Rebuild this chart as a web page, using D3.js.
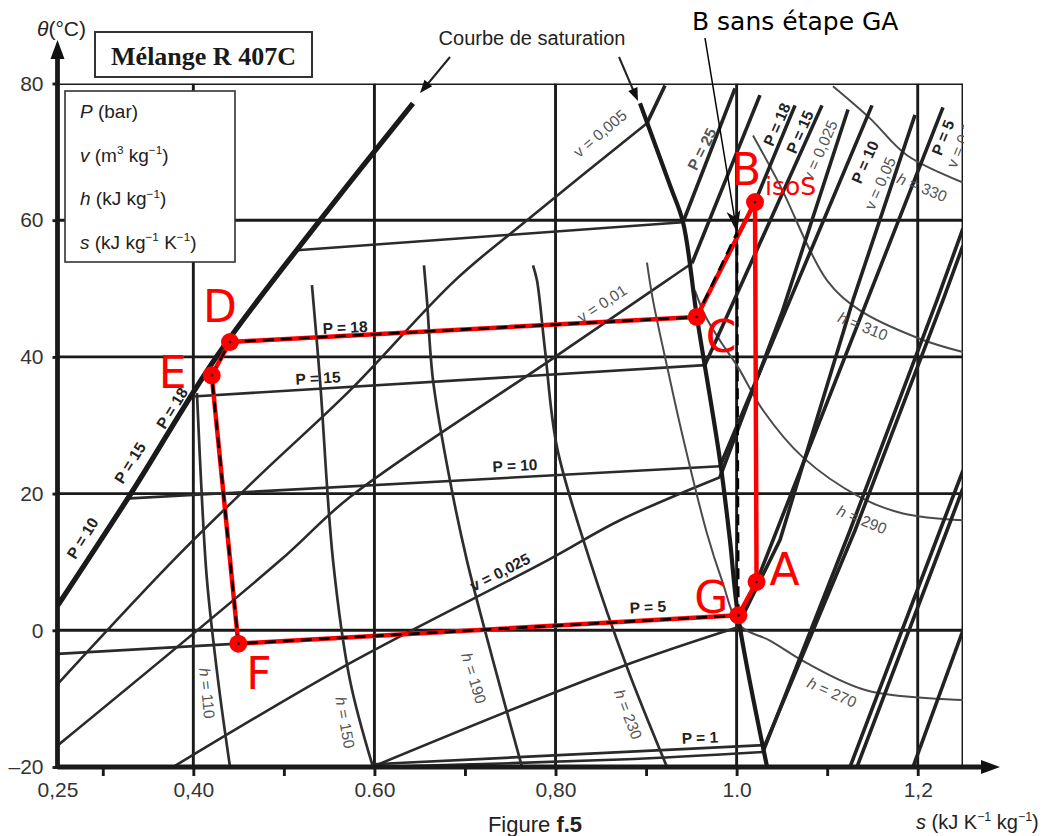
<!DOCTYPE html>
<html>
<head>
<meta charset="utf-8">
<script src="https://cdn.jsdelivr.net/npm/d3@7"></script>
<style>
  body { margin: 0; background: #fff; }
  svg { display: block; font-family: "Liberation Sans", Arial, sans-serif; }
</style>
</head>
<body>
<svg id="chart" width="1050" height="836"></svg>
<script>
'use strict';

// values: [s (kJ/K/kg), theta (°C)]
var sTicks      = [0.25, 0.3, 0.4, 0.5, 0.6, 0.7, 0.8, 0.9, 1.0, 1.1, 1.2];
var sTickLabels = ['0,25', '', '0,40', '', '0.60', '', '0,80', '', '1.0', '', '1,2'];
var tTicks      = [-20, 0, 20, 40, 60, 80];
var tTickLabels = ['\u201320', '0', '20', '40', '60', '80'];
var gridS = [0.4, 0.6, 0.8, 1.0, 1.2, 1.25];
var gridT = [0, 20, 40, 60, 80];

// saturation curve
var satLiquid = [[0.2506, 3.7], [0.332, 20.2], [0.426, 40.1], [0.540, 60.0], [0.6426, 77.1]];
var satVapor  = [[0.8933, 77.1], [0.9264, 65.1], [0.9408, 59.7], [0.9562, 45.8], [0.9816, 24.9],
                 [0.9926, 13.2], [1.0015, 2.2], [1.0335, -19.9]];

// isobars (bar), wet part then superheated part
var pDome25 = [[0.5145, 55.6], [0.9408, 59.7]];
var pDome18 = [[0.4394, 42.17], [0.9559, 45.84]];
var pDome15 = [[0.3996, 34.2], [0.9650, 38.8]];
var pDome10 = [[0.330, 19.3], [0.9816, 24.0]];
var pDome5  = [[0.25, -3.45], [1.0019, 2.19]];
var pDome1  = [[0.5984, -19.6], [1.0313, -16.8]];
var pSup25  = [[0.9408, 59.7], [0.9982, 79.3]];
var pSup18  = [[0.9559, 45.84], [1.0203, 62.66], [1.0645, 76.8]];
var pSup15  = [[0.9650, 38.8], [1.0943, 76.8]];
var pSup10  = [[0.9816, 24.0], [1.0589, 48.3], [1.1495, 76.8]];
var pSup5   = [[1.0019, 2.19], [1.022, 7.07], [1.2279, 76.5]];
var pSup1   = [[1.0313, -16.8], [1.1307, 14.6], [1.2279, 48.3], [1.25, 56.3]];
var pSupLowA = [[1.1252, -20], [1.2246, 14.6], [1.25, 23.4]];
var pSupLowB = [[1.1329, -20], [1.2323, 14.6], [1.25, 20.8]];
var pSupLowC = [[1.1948, -20], [1.25, 0]];

// isochores (m3/kg)
var vDome005 = [[0.2506, -7.8], [0.3776, 10.2], [0.4736, 22.7], [0.5730, 35.1], [0.6890, 51.2],
                [0.7685, 60.0], [0.9010, 74.2]];
var vSup005  = [[0.9010, 74.2], [0.9209, 79.7]];
var vDome01  = [[0.2506, -16.8], [0.4957, 10.2], [0.5730, 19.5], [0.7939, 39.5], [0.9231, 51.2], [0.9507, 53.7]];
var vSup01   = [[0.9507, 53.7], [1.0258, 78.3]];
var vDome025 = [[0.3776, -20], [0.5730, -4.8], [0.7906, 10.2], [0.8712, 16.1], [0.9816, 22.4]];
var vSup025  = [[0.9816, 22.4], [1.0501, 46.5], [1.1230, 76.2]];
var vDome05  = [[0.5973, -20], [0.8712, -5.4], [1.0004, 0.4]];
var vSup05   = [[1.0004, 0.4], [1.0479, 13.2], [1.1285, 48.3], [1.1970, 75.4]];
var vDome1   = [[0.6006, -20], [0.8712, -18.9], [1.0291, -17.8]];
var vSup1    = [[1.0291, -17.8], [1.1252, 14.6], [1.2213, 48.3], [1.25, 58.8]];

// isenthalps (kJ/kg)
var h110 = [[0.404, 34.7], [0.4096, 19.0], [0.4151, 7.3], [0.4273, -7.3], [0.4405, -20]];
var h150 = [[0.531, 50.5], [0.5399, 36.6], [0.5543, 10.2], [0.573, -7.3], [0.5984, -20]];
var h190 = [[0.6547, 53.4], [0.658, 48.3], [0.6647, 36.6], [0.6834, 21.9], [0.7022, 10.2], [0.7309, -4.4], [0.763, -20]];
var h230 = [[0.7751, 53.4], [0.7795, 51.2], [0.7884, 41.0], [0.8016, 26.8], [0.838, 10.2], [0.8789, -5.4], [0.9231, -20]];
var h270 = [[0.901, 53.8], [0.9076, 48.3], [0.9242, 38.0], [0.9397, 28.8], [0.9672, 14.2], [0.9838, 7.3],
            [1.0037, 0.7], [1.0368, -1.5], [1.0777, -4.8], [1.144, -8.8], [1.25, -10.2]];
var h290 = [[0.954, 49.7], [0.965, 46.1], [0.9816, 42.4], [1.0015, 38.5], [1.0291, 32.2], [1.0733, 25.3],
            [1.1362, 19.5], [1.1837, 17.1], [1.25, 16.1]];
var h310 = [[1.0181, 72.4], [1.0479, 65.1], [1.0998, 51.2], [1.1362, 46.8], [1.2014, 42.7], [1.25, 40.7]];
var h330 = [[1.1064, 79.6], [1.1473, 74.9], [1.1881, 69.5], [1.25, 65.5]];

// refrigeration cycle
var cycleNames = ['A', 'B', 'C', 'D', 'E', 'F', 'G'];
var cycleS     = [1.022, 1.0203, 0.9559, 0.4405, 0.4203, 0.4497, 1.0019];
var cycleT     = [7.07, 62.66, 45.84, 42.18, 37.31, -1.95, 2.19];
// cycle without step GA: G -> B' -> C -> D -> E -> F -> G
var noGaS = [1.0019, 1.0004, 0.9559, 0.4405, 0.4203, 0.4497, 1.0019];
var noGaT = [2.19, 58.2, 45.84, 42.18, 37.31, -1.95, 2.19];

// curve labels: text, s, theta, angle, kind
var curveLabels = [
  ['P = 18', 0.5676, 44.3, -3, 'p'], ['P = 15', 0.5377, 36.9, -3, 'p'],
  ['P = 10', 0.7552, 24.1, -3, 'p'], ['P = 5', 0.902, 3.4, -3, 'p'],
  ['P = 1', 0.9595, -15.7, -2, 'p'], ['v = 0,025', 0.7387, 8.5, -27, 'p'],
  ['v = 0,01', 0.8513, 47.8, -33, 'g'], ['v = 0,005', 0.8491, 72.7, -40, 'g'],
  ['P = 10', 0.2777, 13.5, -58, 'p'], ['P = 15', 0.330, 24.5, -58, 'p'],
  ['P = 18', 0.3765, 32.5, -58, 'p'],
  ['P = 25', 0.9617, 70.4, -63, 'pg'], ['P = 18', 1.0446, 74.0, -66, 'p'],
  ['P = 15', 1.07, 72.9, -66, 'p'], ['v = 0,025', 1.092, 70.2, -66, 'g'],
  ['P = 10', 1.1418, 68.5, -66, 'p'], ['v = 0,05', 1.1583, 65.4, -66, 'g'],
  ['P = 5', 1.2279, 72.1, -68, 'p'],
  ['h = 110', 0.4151, -9.2, 84, 'h'], ['h = 150', 0.5676, -13.5, 80, 'h'],
  ['h = 190', 0.7099, -7.0, 73, 'h'], ['h = 230', 0.8801, -12.3, 69, 'h'],
  ['h = 270', 1.1053, -9.1, 24, 'h'], ['h = 290', 1.1384, 16.2, 22, 'h'],
  ['h = 310', 1.1395, 44.5, 22, 'h'], ['h = 330', 1.2047, 64.8, 22, 'h']
];

var SANS = '"Liberation Sans", Arial, sans-serif';
var DEJAVU = '"DejaVu Sans", sans-serif';
var SERIF = '"Liberation Serif", "Times New Roman", serif';

var svg = d3.select('#chart');
var x = d3.scaleLinear().domain([0.25, 1.25]).range([57.5, 963]);
var y = d3.scaleLinear().domain([-20, 80]).range([767, 83.5]);

var straight = d3.line().x(function (d) { return x(d[0]); }).y(function (d) { return y(d[1]); });
var smooth = d3.line().x(function (d) { return x(d[0]); }).y(function (d) { return y(d[1]); })
  .curve(d3.curveCatmullRom.alpha(0.5));

var defs = svg.append('defs');
defs.append('clipPath').attr('id', 'plot').append('rect')
  .attr('x', x(0.25)).attr('y', y(80)).attr('width', x(1.25) - x(0.25)).attr('height', y(-20) - y(80));
defs.append('clipPath').attr('id', 'plotText').append('rect')
  .attr('x', 0).attr('y', 0).attr('width', x(1.25) + 1).attr('height', 836);

var net = svg.append('g').attr('clip-path', 'url(#plot)');

// grid
net.selectAll('.gh').data(gridT).join('line').attr('class', 'gh')
  .attr('x1', x(0.25)).attr('x2', x(1.25)).attr('y1', y).attr('y2', y)
  .attr('stroke', '#1a1a1a').attr('stroke-width', 2.9);
net.selectAll('.gv').data(gridS).join('line').attr('class', 'gv')
  .attr('x1', x).attr('x2', x).attr('y1', y(-20)).attr('y2', y(80))
  .attr('stroke', '#1a1a1a').attr('stroke-width', 2.9);

var styles = {
  dome:  { w: 2.6, c: '#2a2a2a' },
  sup:   { w: 3.6, c: '#222' },
  hdome: { w: 2.7, c: '#2e2e2e' },
  hsup:  { w: 2.0, c: '#4a4a4a' },
  sat:   { w: 5.2, c: '#1a1a1a' }
};
var curves = [
  { d: pDome25, st: 'dome' }, { d: pDome18, st: 'dome' }, { d: pDome15, st: 'dome' },
  { d: pDome10, st: 'dome' }, { d: pDome5, st: 'dome' }, { d: pDome1, st: 'dome' },
  { d: vDome005, st: 'dome', sm: 1 }, { d: vDome01, st: 'dome', sm: 1 }, { d: vDome025, st: 'dome', sm: 1 },
  { d: vDome05, st: 'dome', sm: 1 }, { d: vDome1, st: 'dome', sm: 1 },
  { d: h110, st: 'hdome', sm: 1 }, { d: h150, st: 'hdome', sm: 1 }, { d: h190, st: 'hdome', sm: 1 },
  { d: h230, st: 'hdome', sm: 1 }, { d: h270, st: 'hsup', sm: 1 }, { d: h290, st: 'hsup', sm: 1 },
  { d: h310, st: 'hsup', sm: 1 }, { d: h330, st: 'hsup', sm: 1 },
  { d: pSup25, st: 'sup' }, { d: pSup18, st: 'sup' }, { d: pSup15, st: 'sup' }, { d: pSup10, st: 'sup' },
  { d: pSup5, st: 'sup' }, { d: pSup1, st: 'sup' }, { d: pSupLowA, st: 'sup' }, { d: pSupLowB, st: 'sup' },
  { d: pSupLowC, st: 'sup' },
  { d: vSup005, st: 'sup' }, { d: vSup01, st: 'sup' }, { d: vSup025, st: 'sup' }, { d: vSup05, st: 'sup' },
  { d: vSup1, st: 'sup' },
  { d: satLiquid, st: 'sat', sm: 1 }, { d: satVapor, st: 'sat', sm: 1 }
];
net.selectAll('.curve').data(curves).join('path').attr('class', 'curve')
  .attr('d', function (c) { return (c.sm ? smooth : straight)(c.d); })
  .attr('fill', 'none')
  .attr('stroke', function (c) { return styles[c.st].c; })
  .attr('stroke-width', function (c) { return styles[c.st].w; })
  .attr('stroke-linejoin', 'round');
net.select('.curve:last-child').attr('stroke-width', 4.2);

// text with italic / bold / superscript parts
function rich(sel, parts, size) {
  var up = 0;
  parts.forEach(function (p) {
    var t = sel.append('tspan').text(p.t);
    var want = p.sup ? -size * 0.38 : 0;
    if (want !== up) { t.attr('dy', want - up); up = want; }
    if (p.sup) t.style('font-size', (size * 0.62) + 'px');
    if (p.i) t.style('font-style', 'italic');
    if (p.b) t.style('font-weight', 'bold');
  });
}

var lab = svg.append('g').attr('clip-path', 'url(#plotText)');
curveLabels.forEach(function (l) {
  var t = lab.append('text')
    .attr('transform', 'translate(' + x(l[1]) + ',' + y(l[2]) + ') rotate(' + l[3] + ')')
    .attr('text-anchor', 'middle').attr('dy', '0.35em')
    .style('font-size', '15.5px');
  if (l[4] === 'p') t.style('font-weight', 'bold').attr('fill', '#222').text(l[0]);
  else if (l[4] === 'pg') t.style('font-weight', 'bold').attr('fill', '#555').text(l[0]);
  else if (l[4] === 'g') t.attr('fill', '#555').text(l[0]);
  else {
    t.attr('fill', '#555');
    rich(t, [{ t: 'h', i: 1 }, { t: l[0].slice(1) }], 15.5);
  }
});
// label cut by the right border
lab.append('text')
  .attr('transform', 'translate(' + x(1.2424) + ',' + y(67.5) + ') rotate(-68)')
  .style('font-size', '15.5px').attr('fill', '#555').text('v = 0,1');

// axes
var xAxis = d3.axisBottom(x).tickValues(sTicks).tickSize(9).tickPadding(6)
  .tickFormat(function (d, i) { return sTickLabels[i]; });
var gx = svg.append('g').attr('transform', 'translate(0,' + y(-20) + ')').call(xAxis);
var yAxis = d3.axisLeft(y).tickValues(tTicks).tickSize(5).tickPadding(9)
  .tickFormat(function (d, i) { return tTickLabels[i]; });
var gy = svg.append('g').attr('transform', 'translate(' + x(0.25) + ',0)').call(yAxis);
[gx, gy].forEach(function (g) {
  g.select('.domain').remove();
  g.selectAll('.tick line').attr('stroke', '#1a1a1a').attr('stroke-width', 2.9);
  g.selectAll('.tick text').attr('fill', '#333').style('font-size', '21px').style('font-family', SANS);
});
gx.select('.tick line').remove();

function arrowHead(g, x1, y1, x2, y2, len, half, notch) {
  var a = Math.atan2(y2 - y1, x2 - x1), c = Math.cos(a), s = Math.sin(a);
  var bx = x2 - len * c, by = y2 - len * s;
  var nx = x2 - (len - notch) * c, ny = y2 - (len - notch) * s;
  g.append('path')
    .attr('d', 'M' + x2 + ',' + y2 + 'L' + (bx - half * s) + ',' + (by + half * c) +
      'L' + nx + ',' + ny + 'L' + (bx + half * s) + ',' + (by - half * c) + 'Z')
    .attr('fill', '#111');
}

var ax = svg.append('g');
ax.append('line').attr('x1', x(0.25)).attr('x2', 990).attr('y1', y(-20)).attr('y2', y(-20))
  .attr('stroke', '#1a1a1a').attr('stroke-width', 4.8);
arrowHead(ax, 900, y(-20), 1000, y(-20), 19, 7, 0);
ax.append('line').attr('x1', x(0.25)).attr('x2', x(0.25)).attr('y1', y(-20) + 2).attr('y2', 52)
  .attr('stroke', '#1a1a1a').attr('stroke-width', 4.8);
arrowHead(ax, x(0.25), 200, x(0.25), 40, 19, 7, 0);

// axis titles and boxes
rich(svg.append('text').attr('x', 37).attr('y', 36).style('font-size', '21px').attr('fill', '#222'),
  [{ t: '\u03b8', i: 1 }, { t: '(\u00b0C)' }], 21);
rich(svg.append('text').attr('x', 916).attr('y', 829).style('font-size', '20px').attr('fill', '#222'),
  [{ t: 's', i: 1 }, { t: ' (kJ K' }, { t: '\u22121', sup: 1 }, { t: ' kg' }, { t: '\u22121', sup: 1 }, { t: ')' }], 20);
rich(svg.append('text').attr('x', 535).attr('y', 832).attr('text-anchor', 'middle')
  .style('font-size', '22px').attr('fill', '#222'),
  [{ t: 'Figure ' }, { t: 'f.5', b: 1 }], 22);

svg.append('rect').attr('x', 95).attr('y', 32).attr('width', 217).attr('height', 45)
  .attr('fill', '#fff').attr('stroke', '#333').attr('stroke-width', 2);
svg.append('text').attr('x', 203.5).attr('y', 65).attr('text-anchor', 'middle')
  .style('font-family', SERIF).style('font-weight', 'bold').style('font-size', '26px')
  .attr('fill', '#1a1a1a')
  .text('M\u00e9lange R 407C');

svg.append('rect').attr('x', 65).attr('y', 91).attr('width', 170).attr('height', 171)
  .attr('fill', '#fff').attr('stroke', '#333').attr('stroke-width', 1.6);
var legendRows = [
  [{ t: 'P', i: 1 }, { t: ' (bar)' }],
  [{ t: 'v', i: 1 }, { t: ' (m' }, { t: '3', sup: 1 }, { t: ' kg' }, { t: '\u22121', sup: 1 }, { t: ')' }],
  [{ t: 'h', i: 1 }, { t: ' (kJ kg' }, { t: '\u22121', sup: 1 }, { t: ')' }],
  [{ t: 's', i: 1 }, { t: ' (kJ kg' }, { t: '\u22121', sup: 1 }, { t: ' K' }, { t: '\u22121', sup: 1 }, { t: ')' }]
];
legendRows.forEach(function (row, i) {
  rich(svg.append('text').attr('x', 80).attr('y', 118 + i * 43.5).style('font-size', '19px').attr('fill', '#222'),
    row, 19);
});

// "Courbe de saturation" callout
var cb = svg.append('g');
cb.append('text').attr('x', 532).attr('y', 45).attr('text-anchor', 'middle')
  .style('font-size', '20px').attr('fill', '#222').text('Courbe de saturation');
cb.append('line').attr('x1', 450).attr('y1', 57).attr('x2', 426).attr('y2', 86)
  .attr('stroke', '#222').attr('stroke-width', 2);
arrowHead(cb, 450, 57, 420, 93, 13, 5, 0);
cb.append('line').attr('x1', 619).attr('y1', 57).attr('x2', 634).attr('y2', 92)
  .attr('stroke', '#222').attr('stroke-width', 2);
arrowHead(cb, 619, 57, 638, 101, 13, 5, 0);

// cycle
var cyc = svg.append('g');
var redPts = cycleS.map(function (s, i) { return [s, cycleT[i]]; });
cyc.append('path').attr('d', straight(redPts.concat([redPts[0]])))
  .attr('fill', 'none').attr('stroke', '#ff0000').attr('stroke-width', 4.5).attr('stroke-linejoin', 'round');
var blackPts = noGaS.map(function (s, i) { return [s, noGaT[i]]; });
cyc.append('path').attr('d', straight(blackPts))
  .attr('fill', 'none').attr('stroke', '#000').attr('stroke-width', 2.6).attr('stroke-dasharray', '11,7');

cyc.selectAll('.pt').data(redPts).join('circle').attr('class', 'pt')
  .attr('cx', function (d) { return x(d[0]); }).attr('cy', function (d) { return y(d[1]); })
  .attr('r', 9).attr('fill', '#ff0000');
cyc.selectAll('.dot').data(redPts).join('circle').attr('class', 'dot')
  .attr('cx', function (d) { return x(d[0]); }).attr('cy', function (d) { return y(d[1]); })
  .attr('r', 1.3).attr('fill', '#000');

var labelOffset = { A: [13, 3], B: [-24, -17], C: [9, 35], D: [-27, -20], E: [-53, 13], F: [8, 45], G: [-44, -2] };
cyc.selectAll('.cl').data(cycleNames).join('text').attr('class', 'cl')
  .attr('x', function (d, i) { return x(cycleS[i]) + labelOffset[d][0]; })
  .attr('y', function (d, i) { return y(cycleT[i]) + labelOffset[d][1]; })
  .style('font-family', DEJAVU).style('font-size', '44px').attr('fill', '#ff0000')
  .text(function (d) { return d; });
cyc.append('text').attr('x', x(cycleS[1]) + 10).attr('y', y(cycleT[1]) - 7)
  .style('font-family', DEJAVU).style('font-size', '25px').attr('fill', '#ff0000')
  .text('isoS');

// "B sans étape GA" callout
var bx = x(noGaS[1]), by = y(noGaT[1]);
svg.append('text').attr('x', 692).attr('y', 30)
  .style('font-family', DEJAVU).style('font-size', '25px').attr('fill', '#000')
  .text('B sans \u00e9tape GA');
svg.append('line').attr('x1', 705).attr('y1', 38).attr('x2', bx - 2).attr('y2', by - 12)
  .attr('stroke', '#000').attr('stroke-width', 1.5);
arrowHead(svg, 705, 38, bx, by, 22, 7, 6);
</script>
</body>
</html>
